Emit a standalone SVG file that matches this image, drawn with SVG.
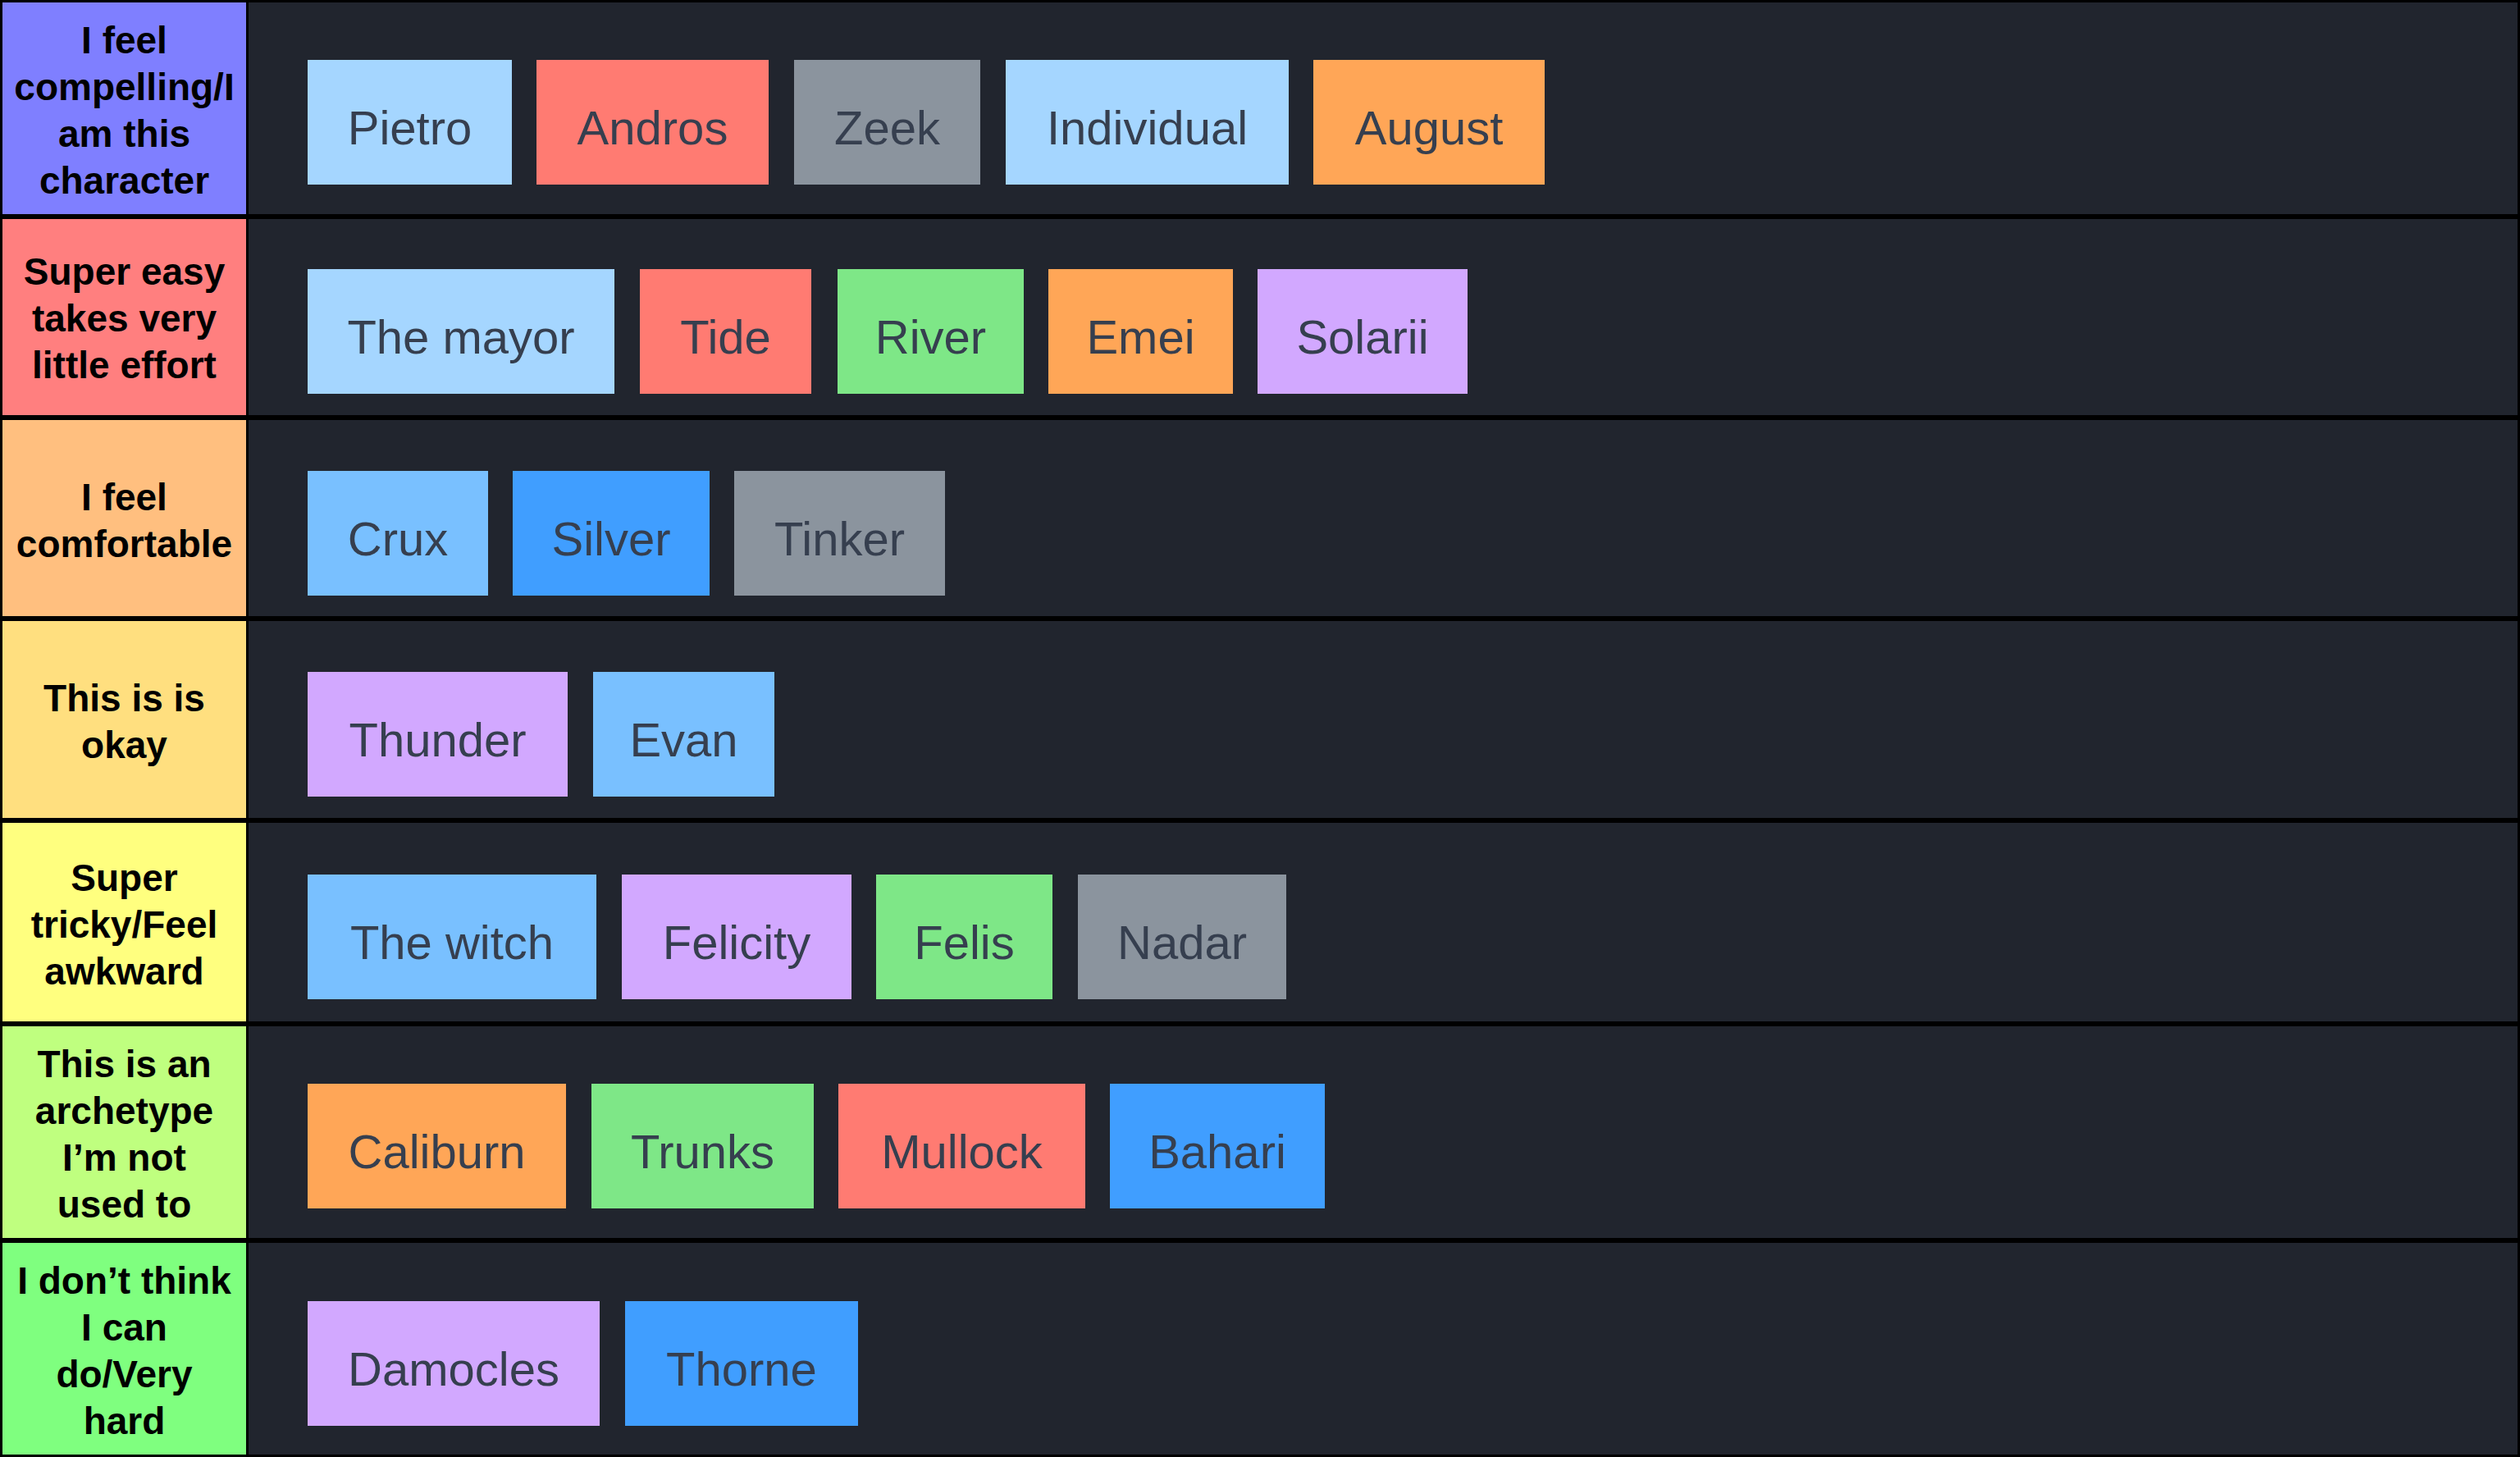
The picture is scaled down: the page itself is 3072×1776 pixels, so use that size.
<svg xmlns="http://www.w3.org/2000/svg" width="3072" height="1776" viewBox="0 0 3072 1776">
<style>
.row{fill:#21252e}
.lbl{font-family:"Liberation Sans",Arial,sans-serif;font-weight:bold;font-size:46px;fill:#000;text-anchor:middle}
.t{font-family:"Liberation Sans",Arial,sans-serif;font-size:58px;fill:#363f4f;text-anchor:middle}
.lb{fill:#a5d6ff}.rd{fill:#ff7b72}.gy{fill:#8b949e}.or{fill:#ffa657}.gr{fill:#7ee787}.pu{fill:#d2a8ff}.bl{fill:#79c0ff}.db{fill:#409eff}
</style>
<rect x="0" y="0" width="3072" height="1776" fill="#000"/>
<g id="rows">
<rect class="row" x="303" y="3" width="2766" height="258"/>
<rect class="row" x="303" y="267" width="2766" height="239"/>
<rect class="row" x="303" y="512" width="2766" height="239"/>
<rect class="row" x="303" y="757" width="2766" height="240"/>
<rect class="row" x="303" y="1003" width="2766" height="242"/>
<rect class="row" x="303" y="1251" width="2766" height="258"/>
<rect class="row" x="303" y="1515" width="2766" height="258"/>
</g>
<g id="label1"><rect x="3" y="3" width="297" height="258" fill="#7f7fff"/>
<text class="lbl"><tspan x="151.5" y="64.5">I feel</tspan><tspan x="151.5" y="121.5">compelling/I</tspan><tspan x="151.5" y="178.5">am this</tspan><tspan x="151.5" y="235.5">character</tspan></text></g>
<g id="label2"><rect x="3" y="267" width="297" height="239" fill="#ff7f7f"/>
<text class="lbl"><tspan x="151.5" y="347">Super easy</tspan><tspan x="151.5" y="404">takes very</tspan><tspan x="151.5" y="461">little effort</tspan></text></g>
<g id="label3"><rect x="3" y="512" width="297" height="239" fill="#ffbf7f"/>
<text class="lbl"><tspan x="151.5" y="622">I feel</tspan><tspan x="151.5" y="679">comfortable</tspan></text></g>
<g id="label4"><rect x="3" y="757" width="297" height="240" fill="#ffdf7f"/>
<text class="lbl"><tspan x="151.5" y="867">This is is</tspan><tspan x="151.5" y="924">okay</tspan></text></g>
<g id="label5"><rect x="3" y="1003" width="297" height="242" fill="#ffff7f"/>
<text class="lbl"><tspan x="151.5" y="1086">Super</tspan><tspan x="151.5" y="1143">tricky/Feel</tspan><tspan x="151.5" y="1200">awkward</tspan></text></g>
<g id="label6"><rect x="3" y="1251" width="297" height="258" fill="#bfff7f"/>
<text class="lbl"><tspan x="151.5" y="1313">This is an</tspan><tspan x="151.5" y="1370">archetype</tspan><tspan x="151.5" y="1427">I’m not</tspan><tspan x="151.5" y="1484">used to</tspan></text></g>
<g id="label7"><rect x="3" y="1515" width="297" height="258" fill="#7fff7f"/>
<text class="lbl"><tspan x="151.5" y="1577">I don’t think</tspan><tspan x="151.5" y="1634">I can</tspan><tspan x="151.5" y="1691">do/Very</tspan><tspan x="151.5" y="1748">hard</tspan></text></g>

<g id="pietro"><rect class="lb" x="375" y="73" width="249" height="152"/><text class="t" x="499.5" y="176">Pietro</text></g>
<g id="andros"><rect class="rd" x="654" y="73" width="283" height="152"/><text class="t" x="795.5" y="176">Andros</text></g>
<g id="zeek"><rect class="gy" x="968" y="73" width="227" height="152"/><text class="t" x="1081.5" y="176">Zeek</text></g>
<g id="individual"><rect class="lb" x="1226" y="73" width="345" height="152"/><text class="t" x="1398.5" y="176">Individual</text></g>
<g id="august"><rect class="or" x="1601" y="73" width="282" height="152"/><text class="t" x="1742" y="176">August</text></g>

<g id="themayor"><rect class="lb" x="375" y="328" width="374" height="152"/><text class="t" x="562" y="431">The mayor</text></g>
<g id="tide"><rect class="rd" x="780" y="328" width="209" height="152"/><text class="t" x="884.5" y="431">Tide</text></g>
<g id="river"><rect class="gr" x="1021" y="328" width="227" height="152"/><text class="t" x="1134.5" y="431">River</text></g>
<g id="emei"><rect class="or" x="1278" y="328" width="225" height="152"/><text class="t" x="1390.5" y="431">Emei</text></g>
<g id="solarii"><rect class="pu" x="1533" y="328" width="256" height="152"/><text class="t" x="1661" y="431">Solarii</text></g>

<g id="crux"><rect class="bl" x="375" y="574" width="220" height="152"/><text class="t" x="485" y="677">Crux</text></g>
<g id="silver"><rect class="db" x="625" y="574" width="240" height="152"/><text class="t" x="745" y="677">Silver</text></g>
<g id="tinker"><rect class="gy" x="895" y="574" width="257" height="152"/><text class="t" x="1023.5" y="677">Tinker</text></g>

<g id="thunder"><rect class="pu" x="375" y="819" width="317" height="152"/><text class="t" x="533.5" y="922">Thunder</text></g>
<g id="evan"><rect class="bl" x="723" y="819" width="221" height="152"/><text class="t" x="833.5" y="922">Evan</text></g>

<g id="thewitch"><rect class="bl" x="375" y="1066" width="352" height="152"/><text class="t" x="551" y="1169">The witch</text></g>
<g id="felicity"><rect class="pu" x="758" y="1066" width="280" height="152"/><text class="t" x="898" y="1169">Felicity</text></g>
<g id="felis"><rect class="gr" x="1068" y="1066" width="215" height="152"/><text class="t" x="1175.5" y="1169">Felis</text></g>
<g id="nadar"><rect class="gy" x="1314" y="1066" width="254" height="152"/><text class="t" x="1441" y="1169">Nadar</text></g>

<g id="caliburn"><rect class="or" x="375" y="1321" width="315" height="152"/><text class="t" x="532.5" y="1424">Caliburn</text></g>
<g id="trunks"><rect class="gr" x="721" y="1321" width="271" height="152"/><text class="t" x="856.5" y="1424">Trunks</text></g>
<g id="mullock"><rect class="rd" x="1022" y="1321" width="301" height="152"/><text class="t" x="1172.5" y="1424">Mullock</text></g>
<g id="bahari"><rect class="db" x="1353" y="1321" width="262" height="152"/><text class="t" x="1484" y="1424">Bahari</text></g>

<g id="damocles"><rect class="pu" x="375" y="1586" width="356" height="152"/><text class="t" x="553" y="1689">Damocles</text></g>
<g id="thorne"><rect class="db" x="762" y="1586" width="284" height="152"/><text class="t" x="904" y="1689">Thorne</text></g>
<g id="connectors"/>
</svg>
